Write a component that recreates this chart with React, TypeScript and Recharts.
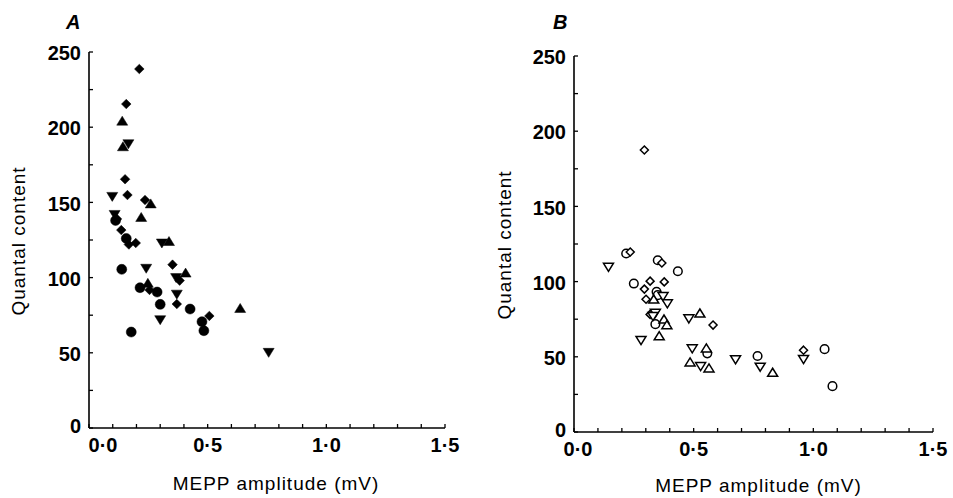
import { ScatterChart, Scatter, XAxis, YAxis } from 'recharts'

type Pt = { x: number; y: number }
const pts = (rows: number[][]): Pt[] => rows.map(([x, y]) => ({ x, y }))

// panel A, filled symbols
const diamondsA = pts([
  [0.212, 238.7], [0.157, 215.4], [0.152, 165.4], [0.162, 154.9], [0.236, 151.6],
  [0.118, 139], [0.136, 131.6], [0.168, 122], [0.197, 123], [0.352, 108.6],
  [0.382, 98], [0.255, 91.8], [0.37, 82.4], [0.507, 74.5],
])
const upA = pts([
  [0.14, 204], [0.143, 187], [0.26, 149], [0.22, 140], [0.337, 124],
  [0.407, 103], [0.248, 96.2], [0.637, 79.5],
])
const downA = pts([
  [0.166, 189], [0.098, 154], [0.108, 142], [0.307, 123], [0.241, 106.2],
  [0.367, 100], [0.37, 89], [0.3, 72], [0.757, 50.3],
])
const circlesA = pts([
  [0.112, 138], [0.157, 126], [0.138, 105.5], [0.215, 93.3], [0.287, 90.4],
  [0.3, 82.2], [0.426, 79.1], [0.476, 70.7], [0.484, 64.7], [0.178, 63.8],
])

// panel B, open symbols
const diamondsB = pts([
  [0.294, 187.5], [0.235, 119.7], [0.367, 112.4], [0.318, 100.3], [0.377, 99.8],
  [0.294, 95], [0.301, 88.3], [0.318, 78.2], [0.581, 71.1], [0.959, 54.4],
])
const circlesB = pts([
  [0.218, 118.7], [0.35, 114.2], [0.434, 106.9], [0.25, 98.7], [0.345, 93.2],
  [0.35, 91], [0.34, 71.7], [0.557, 52.3], [0.767, 50.5], [1.047, 55.1], [1.08, 30.5],
])
const upB = pts([
  [0.333, 88.1], [0.376, 74.8], [0.388, 71.1], [0.356, 63.7], [0.526, 78.8],
  [0.553, 55.6], [0.485, 46.3], [0.564, 42.3], [0.83, 39.4],
])
const downB = pts([
  [0.144, 109.8], [0.372, 90.3], [0.39, 85.5], [0.34, 79.2], [0.33, 77],
  [0.28, 61.1], [0.48, 75.5], [0.494, 55.6], [0.529, 43.8], [0.675, 48.3],
  [0.778, 43.4], [0.959, 48.5],
])

const xTicks = [0, 0.1, 0.2, 0.3, 0.4, 0.5, 0.6, 0.7, 0.8, 0.9, 1.0, 1.1, 1.2, 1.3, 1.4, 1.5]
const xLabels = [0, 0.5, 1.0, 1.5]
const yTicks = [0, 25, 50, 75, 100, 125, 150, 175, 200, 225, 250]
const yLabels = [0, 50, 100, 150, 200, 250]

const FONT = '"Liberation Sans", Arial, sans-serif'

type Kind = 'diamond' | 'up' | 'down' | 'circle'

function Marker(props: any) {
  const { cx, cy, kind, filled } = props
  if (cx == null || cy == null) return null
  const fill = filled ? '#000' : '#fff'
  const stroke = '#000'
  const sw = filled ? 0.5 : 1.5
  if (kind === 'circle') {
    const r = filled ? 5 : 4.3
    return <circle cx={cx} cy={cy} r={r} fill={fill} stroke={stroke} strokeWidth={sw} />
  }
  if (kind === 'diamond') {
    const d = filled ? 4.8 : 4
    return (
      <polygon
        points={`${cx},${cy - d} ${cx + d},${cy} ${cx},${cy + d} ${cx - d},${cy}`}
        fill={fill}
        stroke={stroke}
        strokeWidth={sw}
      />
    )
  }
  const h = filled ? 5 : 4.5
  const w = filled ? 5.5 : 5
  const pts =
    kind === 'up'
      ? `${cx},${cy - h} ${cx + w},${cy + h * 0.8} ${cx - w},${cy + h * 0.8}`
      : `${cx},${cy + h} ${cx + w},${cy - h * 0.8} ${cx - w},${cy - h * 0.8}`
  return <polygon points={pts} fill={fill} stroke={stroke} strokeWidth={sw} strokeLinejoin="miter" />
}

function XTick(props: any) {
  const { x, y, payload, zeroShift } = props
  const v = payload.value
  const show = xLabels.some((l) => Math.abs(l - v) < 1e-6)
  const dx = Math.abs(v) < 1e-6 ? zeroShift : 0
  return (
    <g>
      <line x1={x} y1={y} x2={x} y2={y - 4} stroke="#000" strokeWidth={1.3} />
      {show && (
        <text x={x + dx} y={y + 24} textAnchor="middle" fontFamily={FONT} fontSize={20} fontWeight="bold" fill="#000">
          {v.toFixed(1).replace('.', '·')}
        </text>
      )}
    </g>
  )
}

function YTick(props: any) {
  const { x, y, payload } = props
  const v = payload.value
  const show = yLabels.includes(v)
  return (
    <g>
      <line x1={x} y1={y} x2={x + 4} y2={y} stroke="#000" strokeWidth={1.3} />
      {show && (
        <text x={x - 8} y={v === 0 ? y - 2 : y + 1} dy="0.36em" textAnchor="end" fontFamily={FONT} fontSize={20} fontWeight="bold" fill="#000">
          {v}
        </text>
      )}
    </g>
  )
}

function Panel(props: {
  left: number
  width: number
  margin: { top: number; right: number; bottom: number; left: number }
  letter: string
  letterX: number
  zeroShift: number
  xTitleDx: number
  xTitleY: number
  yTitleX: number
  yTitleDy: number
  filled: boolean
  series: { kind: Kind; data: Pt[] }[]
}) {
  const { left, width, margin, letter, letterX, zeroShift, xTitleDx, xTitleY, yTitleX, yTitleDy, filled, series } = props
  return (
    <div style={{ position: 'absolute', left, top: 0 }}>
      <ScatterChart width={width} height={498} margin={margin}>
        <text x={letterX} y={29} fontFamily={FONT} fontSize={20} fontWeight="bold" fontStyle="italic" fill="#000">
          {letter}
        </text>
        <XAxis
          type="number"
          dataKey="x"
          domain={[0, 1.5]}
          ticks={xTicks}
          interval={0}
          height={50}
          tickSize={0}
          tickMargin={0}
          axisLine={{ stroke: '#000', strokeWidth: 1.6 }}
          tick={<XTick zeroShift={zeroShift} />}
          label={(p: any) => {
            const vb = p.viewBox
            return (
              <text
                x={vb.x + vb.width / 2 + xTitleDx}
                y={xTitleY}
                textAnchor="middle"
                fontFamily={FONT}
                fontSize={19}
                letterSpacing={1}
                fill="#000"
              >
                MEPP amplitude (mV)
              </text>
            )
          }}
        />
        <YAxis
          type="number"
          dataKey="y"
          domain={[0, 250]}
          ticks={yTicks}
          interval={0}
          width={60}
          tickSize={0}
          tickMargin={0}
          axisLine={{ stroke: '#000', strokeWidth: 1.6 }}
          tick={<YTick />}
          label={(p: any) => {
            const vb = p.viewBox
            const cy = vb.y + vb.height / 2 + yTitleDy
            return (
              <text
                x={yTitleX}
                y={cy}
                transform={`rotate(-90 ${yTitleX} ${cy})`}
                textAnchor="middle"
                fontFamily={FONT}
                fontSize={19}
                letterSpacing={1}
                fill="#000"
              >
                Quantal content
              </text>
            )
          }}
        />
        {series.map((s) => (
          <Scatter
            key={s.kind}
            data={s.data}
            isAnimationActive={false}
            shape={(sp: any) => <Marker {...sp} kind={s.kind} filled={filled} />}
          />
        ))}
      </ScatterChart>
    </div>
  )
}

export default function App() {
  return (
    <div style={{ position: 'absolute', left: 0, top: 0, width: 953, height: 498, background: '#fff' }}>
      <Panel
        left={0}
        width={470}
        margin={{ top: 52, right: 25, bottom: 20, left: 29 }}
        letter="A"
        letterX={66}
        zeroShift={14}
        xTitleDx={9}
        xTitleY={490}
        yTitleX={25}
        yTitleDy={1}
        filled
        series={[
          { kind: 'circle', data: circlesA },
          { kind: 'diamond', data: diamondsA },
          { kind: 'down', data: downA },
          { kind: 'up', data: upA },
        ]}
      />
      <Panel
        left={480}
        width={473}
        margin={{ top: 56, right: 20, bottom: 16, left: 34 }}
        letter="B"
        letterX={73}
        zeroShift={4}
        xTitleDx={5}
        xTitleY={492}
        yTitleX={31}
        yTitleDy={1}
        filled={false}
        series={[
          { kind: 'circle', data: circlesB },
          { kind: 'diamond', data: diamondsB },
          { kind: 'down', data: downB },
          { kind: 'up', data: upB },
        ]}
      />
    </div>
  )
}
